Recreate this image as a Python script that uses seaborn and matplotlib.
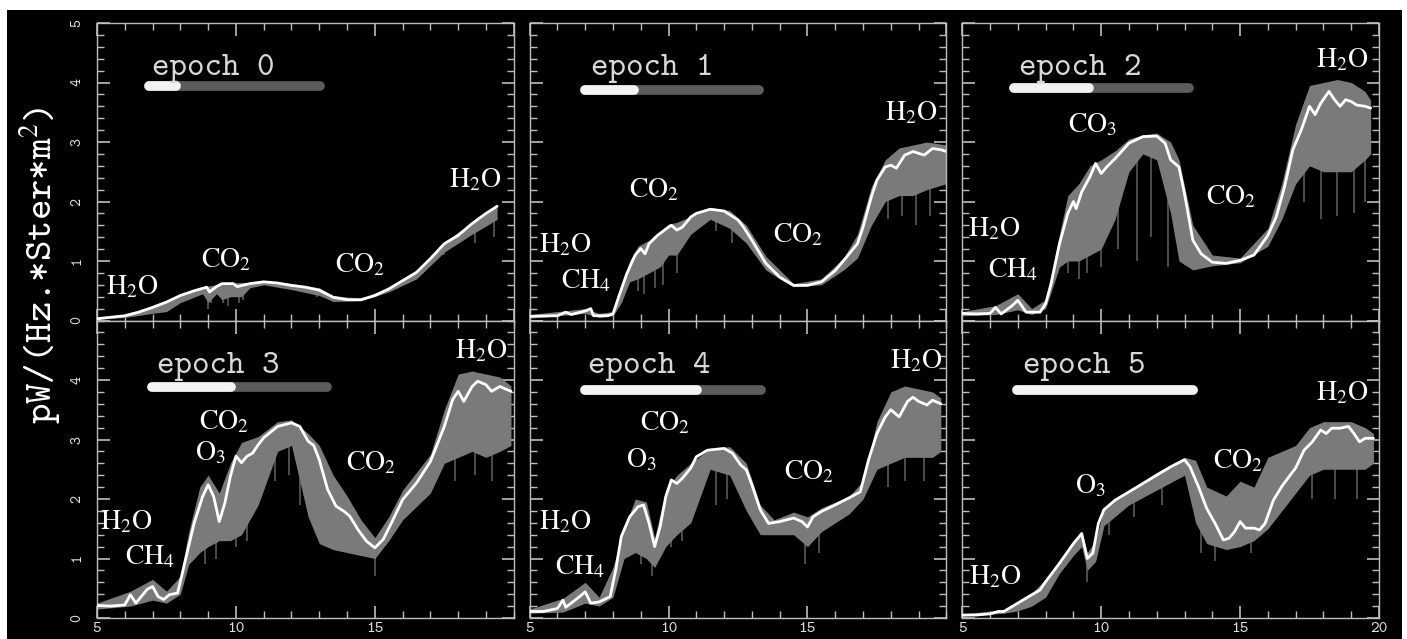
import numpy as np
import seaborn as sns
import pandas as pd
import matplotlib.pyplot as plt
from matplotlib.ticker import MultipleLocator, FixedLocator
from matplotlib.patches import Rectangle

# ---- epoch 0 ----
e0_x = [5, 6, 6.5, 7, 7.5, 8, 8.5, 8.95, 9.05, 9.3, 9.5, 9.9, 10.05, 10.5, 11, 11.5, 12, 12.5, 13,
        13.5, 14, 14.5, 15, 15.5, 16, 16.5, 17, 17.5, 18, 18.5, 19, 19.4]
e0_y = [0.03, 0.08, 0.14, 0.22, 0.31, 0.42, 0.5, 0.56, 0.48, 0.57, 0.62, 0.62, 0.57, 0.62, 0.65, 0.63, 0.59,
        0.56, 0.51, 0.39, 0.35, 0.35, 0.42, 0.53, 0.67, 0.81, 1.04, 1.29, 1.43, 1.63, 1.80, 1.92]
e0_gx = [5, 6, 7, 7.5, 8, 8.8, 9.0, 9.3, 9.5, 9.8, 10.2, 10.5, 11, 12, 13, 13.5, 14.5, 15.5, 16.5, 17.5, 18.5, 19.4]
e0_glo = [0.02, 0.05, 0.12, 0.15, 0.3, 0.45, 0.3, 0.45, 0.35, 0.4, 0.4, 0.55, 0.6, 0.52, 0.42, 0.32, 0.33,
          0.48, 0.7, 1.15, 1.45, 1.7]
e0_ghi = [0.05, 0.1, 0.25, 0.33, 0.45, 0.57, 0.58, 0.6, 0.63, 0.63, 0.64, 0.64, 0.67, 0.62, 0.55, 0.42, 0.37,
          0.55, 0.83, 1.32, 1.65, 1.93]
e0_sx = [9.0, 9.1, 9.55, 9.7, 10.1, 10.25, 12.9, 17.5, 18.6, 19.3]
e0_slo = [0.2, 0.3, 0.3, 0.25, 0.3, 0.35, 0.4, 1.1, 1.3, 1.4]
e0_shi = [0.55, 0.5, 0.6, 0.6, 0.6, 0.6, 0.5, 1.3, 1.6, 1.9]

# ---- epoch 1 ----
e1_x = [5, 6, 6.3, 6.5, 7, 7.2, 7.3, 7.8, 8.0, 8.2, 8.5, 8.8, 9.0, 9.15, 9.3, 9.6, 10, 10.1, 10.3, 10.5,
        10.8, 11, 11.5, 12, 12.5, 12.7, 13, 13.5, 14, 14.5, 15, 15.5, 16, 16.5, 16.8, 17, 17.3, 17.5,
        17.8, 18.0, 18.2, 18.5, 18.8, 19.0, 19.2, 19.5, 19.8, 20]
e1_y = [0.07, 0.08, 0.14, 0.1, 0.16, 0.2, 0.08, 0.08, 0.11, 0.39, 0.79, 1.1, 1.21, 1.12, 1.29, 1.43, 1.57,
        1.6, 1.52, 1.57, 1.74, 1.8, 1.87, 1.84, 1.69, 1.57, 1.35, 0.96, 0.73, 0.59, 0.59, 0.65, 0.84,
        1.12, 1.29, 1.57, 2.08, 2.36, 2.58, 2.61, 2.56, 2.78, 2.84, 2.81, 2.78, 2.89, 2.87, 2.84]
e1_gx = [5, 7, 7.5, 8.0, 8.3, 8.6, 8.9, 9.3, 9.7, 10.0, 10.3, 10.8, 11.5, 12.2, 12.8, 13.5, 14, 14.5,
         15.5, 16.3, 16.8, 17.3, 17.8, 18.3, 18.8, 19.3, 20]
e1_glo = [0.04, 0.12, 0.05, 0.08, 0.3, 0.65, 0.7, 0.8, 0.9, 1.1, 1.1, 1.45, 1.7, 1.55, 1.3, 0.85, 0.7,
          0.57, 0.6, 0.85, 1.05, 1.6, 2.0, 2.1, 2.1, 2.2, 2.3]
e1_ghi = [0.1, 0.2, 0.12, 0.15, 0.6, 1.0, 1.25, 1.35, 1.5, 1.62, 1.65, 1.75, 1.9, 1.85, 1.6, 1.08, 0.85,
          0.62, 0.7, 1.05, 1.45, 2.25, 2.7, 2.9, 2.95, 3.0, 2.95]
e1_sx = [8.9, 9.1, 9.5, 9.8, 10.3, 11.7, 12.3, 17.9, 18.4, 18.9, 19.4]
e1_slo = [0.5, 0.45, 0.55, 0.6, 0.8, 1.5, 1.3, 1.7, 1.75, 1.6, 1.75]
e1_shi = [1.15, 1.2, 1.35, 1.5, 1.55, 1.87, 1.8, 2.6, 2.75, 2.85, 2.9]

# ---- epoch 2 ----
e2_x = [5, 5.5, 6, 6.2, 6.4, 6.8, 7.0, 7.3, 7.8, 8.0, 8.2, 8.5, 8.8, 9.0, 9.1, 9.3, 9.6, 9.8, 10.0,
        10.2, 10.5, 11, 11.5, 12, 12.3, 12.5, 12.8, 13, 13.3, 13.6, 14, 14.5, 15, 15.5, 16, 16.3, 16.6,
        16.9, 17.2, 17.5, 17.7, 17.9, 18.2, 18.4, 18.6, 18.8, 19.0, 19.2, 19.5, 19.7]
e2_y = [0.12, 0.11, 0.12, 0.22, 0.11, 0.25, 0.34, 0.14, 0.14, 0.28, 0.62, 1.29, 1.8, 2.0, 1.88, 2.16,
        2.42, 2.64, 2.47, 2.58, 2.72, 2.98, 3.09, 3.1, 2.98, 2.7, 2.58, 2.13, 1.35, 1.12, 0.98, 0.96,
        1.01, 1.1, 1.43, 1.74, 2.25, 2.87, 3.2, 3.6, 3.46, 3.65, 3.85, 3.71, 3.6, 3.71, 3.68, 3.62, 3.6, 3.57]
e2_gx = [5, 6.2, 7.0, 7.5, 8.0, 8.5, 8.8, 9.2, 9.6, 10.0, 10.5, 11, 11.5, 12, 12.5, 12.8, 13.3, 14, 15,
         16, 16.5, 17.0, 17.5, 18, 18.5, 19, 19.5, 19.7]
e2_glo = [0.08, 0.1, 0.18, 0.1, 0.2, 0.9, 1.0, 1.0, 1.1, 1.2, 1.7, 2.5, 2.8, 2.7, 1.8, 1.0, 0.85, 0.92,
          0.97, 1.25, 1.7, 2.3, 2.6, 2.5, 2.5, 2.5, 2.7, 2.8]
e2_ghi = [0.15, 0.25, 0.45, 0.2, 0.35, 1.45, 2.1, 2.3, 2.6, 2.7, 2.85, 3.05, 3.12, 3.15, 3.0, 2.7, 1.6,
          1.1, 1.05, 1.55, 2.3, 3.3, 3.95, 4.0, 4.05, 4.0, 3.85, 3.7]
e2_sx = [8.8, 9.2, 9.5, 10.0, 10.6, 11.3, 11.8, 12.4, 17.3, 17.9, 18.5, 19.1, 19.5]
e2_slo = [0.8, 0.7, 0.8, 0.9, 1.2, 1.0, 1.4, 0.9, 2.0, 1.7, 1.75, 1.8, 2.0]
e2_shi = [1.8, 2.0, 2.3, 2.5, 2.7, 3.0, 3.1, 2.9, 3.3, 3.65, 3.7, 3.65, 3.6]

# ---- epoch 3 ----
e3_x = [5, 5.5, 6, 6.2, 6.4, 6.8, 7.0, 7.2, 7.4, 7.6, 7.9, 8.1, 8.3, 8.5, 8.8, 9.0, 9.2, 9.4, 9.6,
        9.8, 10.0, 10.2, 10.4, 10.6, 10.8, 11, 11.5, 12, 12.3, 12.6, 12.8, 13.0, 13.3, 13.6, 13.9, 14.1,
        14.4, 14.7, 15.0, 15.3, 15.6, 16, 16.5, 17, 17.5, 17.8, 18.0, 18.2, 18.5, 18.7, 19.0, 19.2,
        19.5, 19.9]
e3_y = [0.21, 0.2, 0.22, 0.39, 0.25, 0.48, 0.53, 0.36, 0.31, 0.39, 0.42, 0.81, 1.21, 1.6, 2.04, 2.24,
        2.04, 1.62, 1.93, 2.38, 2.72, 2.61, 2.72, 2.77, 2.91, 3.03, 3.22, 3.28, 3.22, 2.97, 2.9, 2.66,
        2.16, 1.88, 1.79, 1.71, 1.48, 1.29, 1.18, 1.32, 1.6, 1.99, 2.27, 2.63, 3.22, 3.67, 3.81, 3.64,
        3.89, 3.98, 3.92, 3.81, 3.89, 3.81]
e3_gx = [5, 6.2, 7.0, 7.5, 8.0, 8.3, 8.7, 9.0, 9.4, 9.8, 10.2, 10.8, 11.5, 12, 12.6, 13.0, 13.5, 14,
         14.5, 15, 15.5, 16, 17, 17.5, 18, 18.5, 19, 19.5, 19.9]
e3_glo = [0.15, 0.2, 0.3, 0.25, 0.4, 0.9, 1.1, 1.2, 1.3, 1.3, 1.4, 1.9, 2.8, 2.9, 1.7, 1.25, 1.15, 1.1,
          1.05, 1.0, 1.3, 1.65, 2.1, 2.6, 2.7, 2.8, 2.7, 2.8, 2.9]
e3_ghi = [0.25, 0.45, 0.65, 0.45, 0.7, 1.45, 2.2, 2.4, 2.1, 2.6, 2.95, 3.05, 3.3, 3.33, 3.1, 2.9, 2.4,
          2.05, 1.65, 1.35, 1.7, 2.15, 2.75, 3.5, 4.1, 4.15, 4.1, 4.05, 3.9]
e3_sx = [8.9, 9.3, 10.0, 10.4, 11.4, 11.9, 12.3, 15.0, 17.9, 18.6, 19.2]
e3_slo = [0.9, 1.0, 1.2, 1.3, 2.3, 2.4, 1.9, 0.7, 2.3, 2.4, 2.3]
e3_shi = [2.1, 1.9, 2.7, 2.7, 3.2, 3.28, 3.2, 1.2, 3.75, 3.9, 3.85]

# ---- epoch 4 ----
e4_x = [5, 5.5, 6.0, 6.2, 6.3, 6.8, 7.0, 7.2, 7.5, 7.9, 8.1, 8.3, 8.6, 8.9, 9.1, 9.3, 9.5, 9.7, 9.9,
        10.1, 10.3, 10.5, 10.8, 11.0, 11.4, 12.0, 12.3, 12.6, 12.8, 13.0, 13.3, 13.6, 14.0, 14.5, 14.8,
        15.0, 15.2, 15.5, 16, 16.5, 16.9, 17.2, 17.5, 17.8, 18.0, 18.3, 18.6, 18.8, 19.0, 19.3, 19.5, 19.8]
e4_y = [0.11, 0.11, 0.16, 0.3, 0.18, 0.36, 0.44, 0.25, 0.27, 0.36, 0.81, 1.37, 1.7, 1.87, 1.9, 1.59,
        1.2, 1.54, 2.04, 2.32, 2.26, 2.35, 2.52, 2.71, 2.82, 2.85, 2.77, 2.57, 2.49, 2.24, 1.82, 1.59,
        1.62, 1.68, 1.62, 1.53, 1.7, 1.79, 1.9, 2.02, 2.12, 2.66, 3.1, 3.38, 3.5, 3.38, 3.64, 3.71, 3.64,
        3.58, 3.66, 3.6]
e4_gx = [5, 6.2, 7.0, 7.5, 8.0, 8.4, 8.8, 9.2, 9.5, 9.9, 10.3, 10.8, 11.5, 12.2, 12.8, 13.3, 13.8, 14.5,
         15.0, 15.5, 16.5, 17.0, 17.5, 18.0, 18.5, 19.0, 19.5, 19.8]
e4_glo = [0.08, 0.1, 0.25, 0.2, 0.35, 1.0, 1.1, 1.0, 0.85, 1.2, 1.4, 1.6, 2.5, 2.4, 1.8, 1.4, 1.4, 1.4,
          1.2, 1.45, 1.75, 2.0, 2.5, 2.6, 2.7, 2.7, 2.7, 2.8]
e4_ghi = [0.15, 0.33, 0.6, 0.35, 0.85, 1.5, 2.0, 1.95, 1.35, 2.15, 2.4, 2.6, 2.85, 2.88, 2.6, 1.9, 1.65,
          1.78, 1.7, 1.85, 2.05, 2.3, 3.3, 3.8, 3.9, 3.85, 3.8, 3.7]
e4_sx = [9.0, 9.4, 10.1, 10.5, 11.7, 12.1, 14.9, 15.4, 17.9, 18.5, 19.2]
e4_slo = [0.9, 0.7, 1.2, 1.3, 1.9, 2.0, 0.9, 1.1, 2.2, 2.3, 2.3]
e4_shi = [1.9, 1.5, 2.3, 2.35, 2.84, 2.83, 1.6, 1.75, 3.45, 3.6, 3.6]

# ---- epoch 5 ----
e5_x = [5, 5.5, 6.0, 6.3, 6.5, 7, 7.5, 7.8, 8.0, 8.5, 9.0, 9.3, 9.5, 9.7, 9.9, 10.1, 10.5, 11, 11.5,
        12, 12.5, 13.0, 13.2, 13.5, 13.8, 14.1, 14.4, 14.6, 14.8, 15.0, 15.2, 15.5, 15.7, 15.9, 16.2,
        16.5, 16.8, 17.0, 17.3, 17.6, 17.9, 18.1, 18.3, 18.6, 18.9, 19.1, 19.3, 19.5, 19.8]
e5_y = [0.05, 0.05, 0.07, 0.11, 0.11, 0.25, 0.39, 0.47, 0.61, 0.92, 1.25, 1.42, 1.0, 1.09, 1.59, 1.82,
        1.98, 2.12, 2.26, 2.4, 2.54, 2.66, 2.54, 2.21, 1.84, 1.59, 1.31, 1.34, 1.45, 1.62, 1.51, 1.51,
        1.48, 1.59, 1.98, 2.21, 2.4, 2.52, 2.82, 2.96, 3.16, 3.1, 3.19, 3.19, 3.22, 3.1, 2.96, 3.02, 3.02]
e5_gx = [5, 6.5, 7.0, 7.5, 8.0, 8.5, 9.0, 9.3, 9.5, 9.8, 10.1, 11, 12, 13, 13.4, 13.8, 14.5, 15.0, 15.5,
         16.0, 16.5, 17.0, 17.5, 18, 18.5, 19, 19.5, 19.8]
e5_glo = [0.03, 0.08, 0.12, 0.2, 0.35, 0.75, 1.05, 1.2, 0.8, 0.95, 1.55, 1.9, 2.15, 2.4, 1.6, 1.25, 1.15,
          1.2, 1.3, 1.5, 1.8, 2.1, 2.4, 2.5, 2.5, 2.5, 2.5, 2.6]
e5_ghi = [0.07, 0.14, 0.27, 0.42, 0.65, 0.95, 1.3, 1.45, 1.1, 1.3, 1.85, 2.15, 2.45, 2.7, 2.65, 2.2, 2.05,
          2.3, 2.2, 2.7, 2.8, 2.9, 3.2, 3.3, 3.3, 3.3, 3.2, 3.1]
e5_sx = [9.5, 10.3, 11.2, 12.2, 13.6, 14.1, 15.4, 17.6, 18.4, 19.2]
e5_slo = [0.6, 1.4, 1.7, 1.9, 1.1, 0.95, 1.1, 2.0, 2.0, 2.0]
e5_shi = [1.0, 1.9, 2.15, 2.45, 2.1, 1.6, 1.5, 2.95, 3.19, 3.05]

# molecule labels: (text, x, y)
labels = [
    [('H$_2$O', 6.26, 0.56), ('CO$_2$', 9.64, 1.01), ('CO$_2$', 14.47, 0.93), ('H$_2$O', 18.6, 2.36)],
    [('H$_2$O', 6.28, 1.26), ('CH$_4$', 7.05, 0.67), ('CO$_2$', 9.47, 2.19), ('CO$_2$', 14.67, 1.43),
     ('H$_2$O', 18.75, 3.48)],
    [('H$_2$O', 6.17, 1.54), ('CH$_4$', 6.82, 0.84), ('CO$_3$', 9.69, 3.29), ('CO$_2$', 14.67, 2.08),
     ('H$_2$O', 18.66, 4.38)],
    [('H$_2$O', 6.05, 1.62), ('CH$_4$', 6.91, 1.03), ('CO$_2$', 9.57, 3.3), ('O$_3$', 9.07, 2.77),
     ('CO$_2$', 14.88, 2.6), ('H$_2$O', 18.83, 4.48)],
    [('H$_2$O', 6.27, 1.62), ('CH$_4$', 6.81, 0.86), ('CO$_2$', 9.88, 3.27), ('O$_3$', 9.04, 2.66),
     ('CO$_2$', 15.06, 2.46), ('H$_2$O', 18.92, 4.31)],
    [('H$_2$O', 6.19, 0.69), ('O$_3$', 9.63, 2.21), ('CO$_2$', 14.92, 2.63), ('H$_2$O', 18.66, 3.78)],
]

epoch_names = ['epoch 0', 'epoch 1', 'epoch 2', 'epoch 3', 'epoch 4', 'epoch 5']
epoch_text_x = [6.98, 7.2, 7.05, 7.16, 7.1, 7.2]
epoch_text_y = [4.13, 4.13, 4.13, 4.11, 4.11, 4.11]
bar_start = [6.86, 6.99, 6.88, 6.98, 6.99, 6.98]
bar_end = [13.02, 13.25, 13.15, 13.27, 13.31, 13.31]
bar_done = [7.83, 8.76, 9.57, 9.81, 11.02, 13.31]
bar_y = [3.94, 3.88, 3.9, 3.88, 3.84, 3.84]

white_x = [e0_x, e1_x, e2_x, e3_x, e4_x, e5_x]
white_y = [e0_y, e1_y, e2_y, e3_y, e4_y, e5_y]
grey_x = [e0_gx, e1_gx, e2_gx, e3_gx, e4_gx, e5_gx]
grey_lo = [e0_glo, e1_glo, e2_glo, e3_glo, e4_glo, e5_glo]
grey_hi = [e0_ghi, e1_ghi, e2_ghi, e3_ghi, e4_ghi, e5_ghi]
streak_x = [e0_sx, e1_sx, e2_sx, e3_sx, e4_sx, e5_sx]
streak_lo = [e0_slo, e1_slo, e2_slo, e3_slo, e4_slo, e5_slo]
streak_hi = [e0_shi, e1_shi, e2_shi, e3_shi, e4_shi, e5_shi]

sns.set_style('dark', {'axes.facecolor': 'black', 'figure.facecolor': 'white'})
plt.rcParams['mathtext.fontset'] = 'stix'
plt.rcParams['font.family'] = ['cmtt10', 'DejaVu Sans Mono']

W, H = 1407, 639
fig = plt.figure(figsize=(W / 100, H / 100), dpi=100)
# black plate behind the panels (thin white border on top/left/right like the scan)
fig.patches.append(Rectangle((7 / W, 0), (1402 - 7) / W, 1 - 10 / H, transform=fig.transFigure,
                             facecolor='black', edgecolor='none', zorder=-5))
gs = fig.add_gridspec(2, 3, left=97 / W, right=1379 / W, top=1 - 23 / H, bottom=1 - 618 / H,
                      wspace=0.038, hspace=0)

axcol = '#bdbdbd'
grey = '#7a7a7a'
for i in range(6):
    r, c = divmod(i, 3)
    ax = fig.add_subplot(gs[r, c])
    ax.set_facecolor('black')
    ax.fill_between(grey_x[i], grey_lo[i], grey_hi[i], color=grey, lw=0, zorder=2)
    ax.vlines(streak_x[i], streak_lo[i], streak_hi[i], color=grey, lw=1.1, alpha=0.8, zorder=2)
    df = pd.DataFrame({'wl': white_x[i], 'flux': white_y[i]})
    sns.lineplot(data=df, x='wl', y='flux', ax=ax, color='white', lw=2.0, estimator=None, zorder=3)
    ax.set_xlim(5, 20)
    ax.set_ylim(0, 5)
    ax.set_xlabel('')
    ax.set_ylabel('')
    ax.grid(False)

    # progress bar
    ax.plot([bar_start[i], bar_end[i]], [bar_y[i], bar_y[i]], color='#5c5c5c', lw=7,
            solid_capstyle='round', zorder=4)
    ax.plot([bar_start[i], bar_done[i]], [bar_y[i], bar_y[i]], color='#f2f2f2', lw=7,
            solid_capstyle='round', zorder=5)
    ax.text(epoch_text_x[i], epoch_text_y[i], epoch_names[i], color='#d8d8d8', fontsize=24,
            ha='left', va='baseline', zorder=6)

    for txt, lx, ly in labels[i]:
        ax.text(lx, ly, txt, color='white', fontsize=20, family='STIXGeneral',
                ha='center', va='center', zorder=6)

    for s in ax.spines.values():
        s.set_color(axcol)
        s.set_linewidth(1.0)
        s.set_visible(True)
    ax.xaxis.set_major_locator(MultipleLocator(5))
    ax.xaxis.set_minor_locator(MultipleLocator(1))
    ax.yaxis.set_major_locator(MultipleLocator(1))
    ax.yaxis.set_minor_locator(MultipleLocator(0.2))
    ax.tick_params(which='both', direction='in', top=True, right=True, bottom=True, left=True,
                   color=axcol)
    ax.tick_params(which='major', length=9, width=1.2, labelsize=12, labelcolor='#e0e0e0')
    ax.tick_params(which='minor', length=5, width=1.0)

    if c == 0:
        ax.yaxis.set_major_locator(FixedLocator([0, 1, 2, 3, 4, 5] if r == 0 else [0, 1, 2, 3, 4]))
        ax.yaxis.set_minor_locator(MultipleLocator(0.2))
        for t in ax.get_yticklabels():
            t.set_rotation(90)
            t.set_va('center')
            t.set_fontsize(11)
        ax.tick_params(axis='y', pad=9)
    else:
        ax.tick_params(axis='y', labelleft=False)
    if r == 1:
        ticks = [5, 10, 15, 20] if c == 2 else [5, 10, 15]
        ax.set_xticks(ticks)
        ax.set_xticklabels([str(t) for t in ticks], fontsize=12)
        ax.xaxis.set_minor_locator(MultipleLocator(1))
        ax.tick_params(axis='x', pad=3)
    else:
        ax.tick_params(axis='x', labelbottom=False)

fig.text(40 / W, 1 - 265 / H, 'pW/(Hz.*Ster*m$^2$)', rotation=90, color='white', fontsize=28,
         ha='center', va='center')

fig.savefig('out.png', dpi=100, facecolor='white')
